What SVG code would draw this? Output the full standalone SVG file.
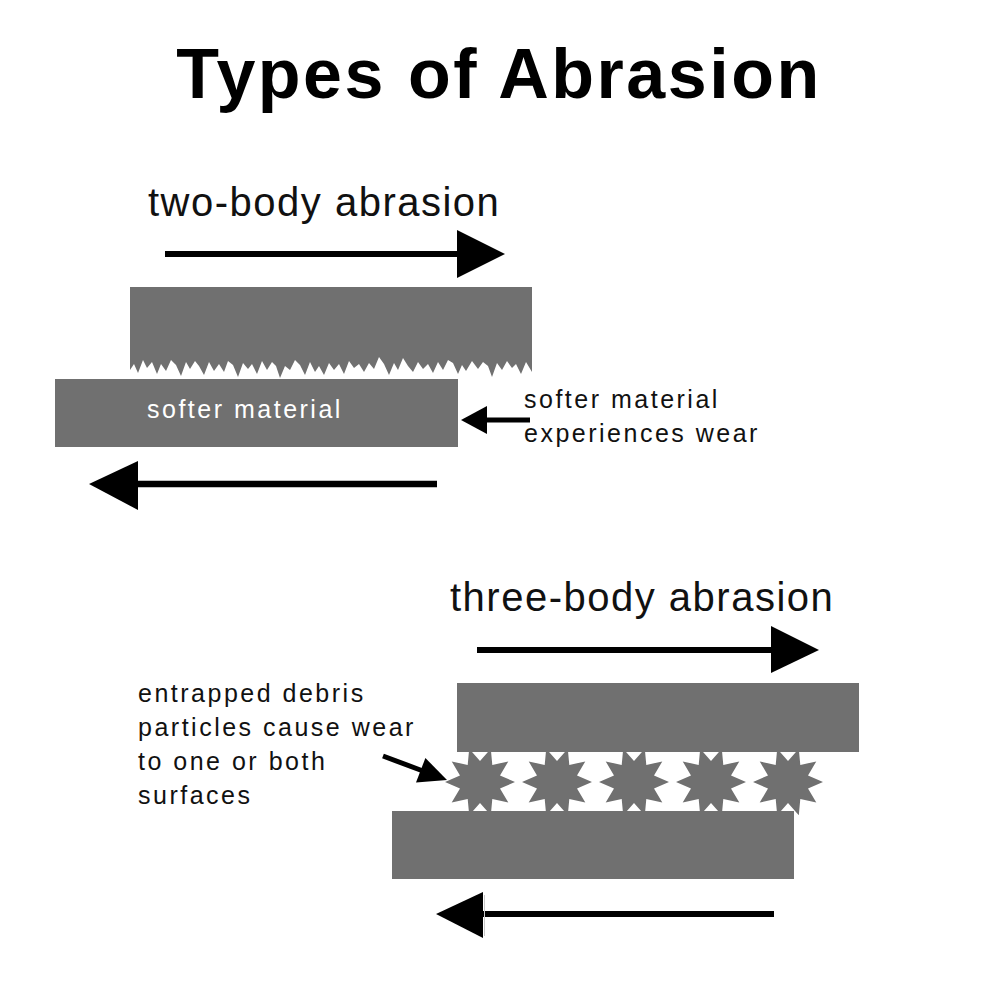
<svg xmlns="http://www.w3.org/2000/svg" xmlns:xlink="http://www.w3.org/1999/xlink" width="1000" height="1000" viewBox="0 0 1000 1000">
<style>
.title{font-family:"Liberation Sans",Arial,sans-serif;font-weight:bold;font-size:70px;letter-spacing:2.5px;fill:#000}
.head{font-family:"Liberation Sans",Arial,sans-serif;font-size:40px;letter-spacing:1.5px;fill:#111}
.lbl{font-family:"Liberation Sans",Arial,sans-serif;font-size:25px;letter-spacing:2.5px;fill:#111}
.inner{font-family:"Liberation Sans",Arial,sans-serif;font-size:25px;letter-spacing:2.5px;fill:#fff}
.body{fill:#707070}
.shaft{stroke:#000;stroke-width:6;fill:none}
.tip{fill:#000}
</style>
<defs>
<polygon id="star" class="body" points="35,0 20,6.5 28.3,20.6 12.3,17 10.8,33.3 0,21 -10.8,33.3 -12.3,17 -28.3,20.6 -20,6.5 -35,0 -20,-6.5 -28.3,-20.6 -12.3,-17 -10.8,-33.3 0,-21 10.8,-33.3 12.3,-17 28.3,-20.6 20,-6.5"/>
</defs>
<rect width="1000" height="1000" fill="#fff"/>

<g id="title"><text class="title" x="499" y="98" text-anchor="middle">Types of Abrasion</text></g>

<g id="two-body-label"><text class="head" x="148" y="216">two-body abrasion</text></g>

<g id="two-body-upper">
<path class="body" d="M130,287 H532 V372 L526,362 L521,374 L516,364 L512,368 L507,361 L502,370 L497,363 L492,377 L488,366 L483,362 L478,369 L472,361 L466,371 L462,365 L458,374 L453,363 L448,360 L443,370 L438,362 L433,373 L428,364 L423,369 L418,362 L413,372 L408,366 L403,358 L398,370 L394,363 L389,375 L384,364 L379,357 L374,369 L369,363 L364,372 L359,364 L354,368 L349,361 L344,374 L339,364 L334,370 L329,363 L324,375 L319,366 L315,372 L310,362 L305,375 L300,365 L295,360 L290,370 L285,366 L280,378 L276,366 L272,362 L267,370 L262,361 L257,374 L252,364 L248,369 L243,363 L238,377 L233,365 L228,361 L224,372 L219,364 L214,371 L209,362 L204,375 L199,366 L195,361 L190,369 L186,362 L181,376 L176,365 L171,360 L166,371 L161,364 L157,374 L152,362 L147,368 L143,360 L138,373 L134,364 L130,370 Z"/>
</g>

<g id="two-body-lower">
<rect class="body" x="55" y="379" width="403" height="68"/>
<text class="inner" x="147" y="418">softer material</text>
</g>

<g id="wear-note">
<text class="lbl" x="524" y="408">softer material</text>
<text class="lbl" x="524" y="442">experiences wear</text>
</g>

<g id="three-body-label"><text class="head" x="450" y="611">three-body abrasion</text></g>

<g id="debris-particles">
<use xlink:href="#star" x="480" y="782"/>
<use xlink:href="#star" x="557" y="782"/>
<use xlink:href="#star" x="634" y="782"/>
<use xlink:href="#star" x="711" y="782"/>
<use xlink:href="#star" x="788" y="782"/>
</g>

<g id="three-body-upper"><rect class="body" x="457" y="683" width="402" height="69"/></g>
<g id="three-body-lower"><rect class="body" x="392" y="811" width="402" height="68"/></g>

<g id="debris-note">
<text class="lbl" x="138" y="702">entrapped debris</text>
<text class="lbl" x="138" y="736">particles cause wear</text>
<text class="lbl" x="138" y="770">to one or both</text>
<text class="lbl" x="138" y="804">surfaces</text>
</g>

<g id="connectors">
<line class="shaft" x1="165" y1="254" x2="460" y2="254"/>
<polygon class="tip" points="457,230 505,254 457,278"/>

<line class="shaft" x1="135" y1="484" x2="437" y2="484" style="stroke-width:6.5"/>
<polygon class="tip" points="89,484 138,461 138,510"/>

<line class="shaft" x1="484" y1="420" x2="530" y2="420" style="stroke-width:5"/>
<polygon class="tip" points="461,420 487,406 487,434"/>

<line class="shaft" x1="477" y1="650" x2="774" y2="650"/>
<polygon class="tip" points="771,626 819,650 771,673"/>

<line class="shaft" x1="480" y1="914" x2="774" y2="914"/>
<polygon class="tip" points="436,914 483,892 483,938"/>
<line x1="484.5" y1="895" x2="484.5" y2="936" stroke="#c8c8c8" stroke-width="1"/>

<line class="shaft" x1="383" y1="756" x2="423" y2="771" style="stroke-width:5"/>
<polygon class="tip" points="447,780 416,782.4 425.4,758"/>
</g>
</svg>
